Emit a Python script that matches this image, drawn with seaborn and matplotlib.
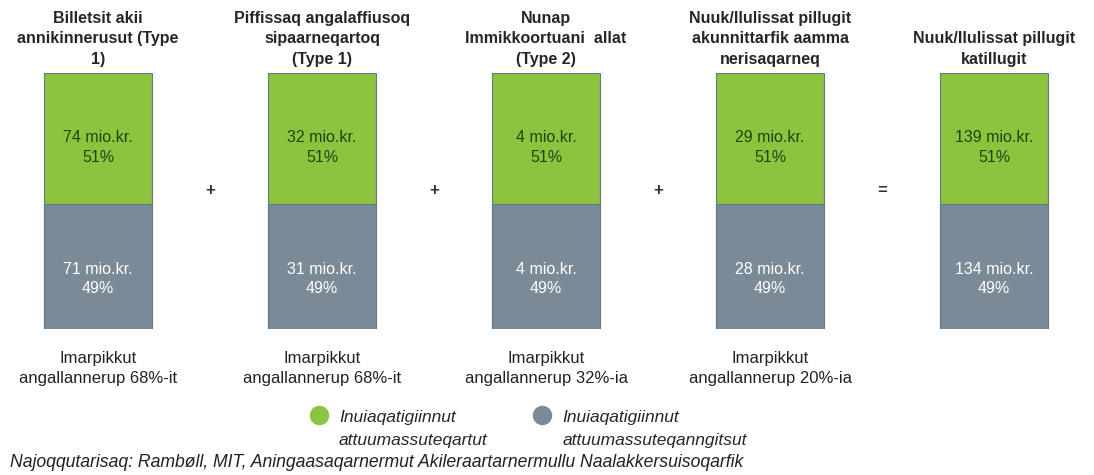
import pandas as pd
import seaborn as sns
import matplotlib.pyplot as plt
from matplotlib.lines import Line2D

# Data
titles = [
    "Billetsit akii\nannikinnerusut (Type\n1)",
    "Piffissaq angalaffiusoq\nsipaarneqartoq\n(Type 1)",
    "Nunap\nImmikkoortuani  allat\n(Type 2)",
    "Nuuk/Ilulissat pillugit\nakunnittarfik aamma\nnerisaqarneq",
    "Nuuk/Ilulissat pillugit\nkatillugit",
]
green_mio = [74, 32, 4, 29, 139]
gray_mio = [71, 31, 4, 28, 134]
green_pct = [51, 51, 51, 51, 51]
gray_pct = [49, 49, 49, 49, 49]
under_labels = [
    "Imarpikkut\nangallannerup 68%-it",
    "Imarpikkut\nangallannerup 68%-it",
    "Imarpikkut\nangallannerup 32%-ia",
    "Imarpikkut\nangallannerup 20%-ia",
    "",
]
operators = ["+", "+", "+", "="]
legend_labels = ["Inuiaqatigiinnut\nattuumassuteqartut",
                 "Inuiaqatigiinnut\nattuumassuteqanngitsut"]
source = "Najoqqutarisaq: Rambøll, MIT, Aningaasaqarnermut Akileraartarnermullu Naalakkersuisoqarfik"

GREEN = "#8cc43f"
GRAY = "#7b8a97"
EDGE = "#667789"

df = pd.DataFrame({
    "cat": [str(i) for i in range(len(titles))],
    "green": green_pct,
    "gray": gray_pct,
})
df["total"] = df["green"] + df["gray"]

sns.set_theme(style="white")
plt.rcParams["font.family"] = ["Liberation Sans", "DejaVu Sans"]

fig = plt.figure(figsize=(10.94, 4.75), dpi=100)
ax = fig.add_axes([0, 146 / 475, 1, 256 / 475])

# stacked bars: total in green, gray drawn on top of the bottom part
sns.barplot(data=df, x="cat", y="total", color=GREEN, width=0.48,
            edgecolor=EDGE, linewidth=0.8, saturation=1, ax=ax)
sns.barplot(data=df, x="cat", y="gray", color=GRAY, width=0.48,
            edgecolor=EDGE, linewidth=0.8, saturation=1, ax=ax)

ax.set_xlim(-0.4375, 4.446)
ax.set_ylim(0, 100)
ax.axis("off")

for i in range(len(titles)):
    ax.text(i, 102.5, titles[i], ha="center", va="bottom", fontsize=11.5,
            fontweight="bold", linespacing=1.45, clip_on=False)
    ax.text(i, df["gray"][i] + df["green"][i] * 0.43,
            f"{green_mio[i]} mio.kr.\n{green_pct[i]}%", ha="center", va="center",
            fontsize=11.5, color="#24440f", linespacing=1.35)
    ax.text(i, df["gray"][i] * 0.40,
            f"{gray_mio[i]} mio.kr.\n{gray_pct[i]}%", ha="center", va="center",
            fontsize=11.5, color="white", linespacing=1.35)
    if under_labels[i]:
        ax.text(i, -8.5, under_labels[i], ha="center", va="top", fontsize=12,
                color="#222222", linespacing=1.45, clip_on=False)

for i, op in enumerate(operators):
    ax.text(i + 0.5, 54, op, ha="center", va="center", fontsize=12,
            fontweight="bold", color="#333333")

# legend (tall handle box so the dot sits level with the first text line)
handles = [
    Line2D([], [], marker="o", linestyle="", markersize=13,
           markerfacecolor=GREEN, markeredgecolor=GREEN),
    Line2D([], [], marker="o", linestyle="", markersize=13,
           markerfacecolor=GRAY, markeredgecolor=GRAY),
]
leg = fig.legend(handles, legend_labels, loc="lower left",
                 bbox_to_anchor=(0.2821, 0.0169), ncol=2, frameon=False,
                 prop={"style": "italic", "size": 12.5},
                 handlelength=1.2, handleheight=6.0, handletextpad=0.55,
                 columnspacing=2.55, borderpad=0, borderaxespad=0, labelspacing=0)
for t in leg.get_texts():
    t.set_linespacing(1.63)

fig.text(0.009, 0.027, source, ha="left", va="center", fontsize=12.7,
         style="italic", color="#222222")

fig.savefig("out.png", dpi=100)
